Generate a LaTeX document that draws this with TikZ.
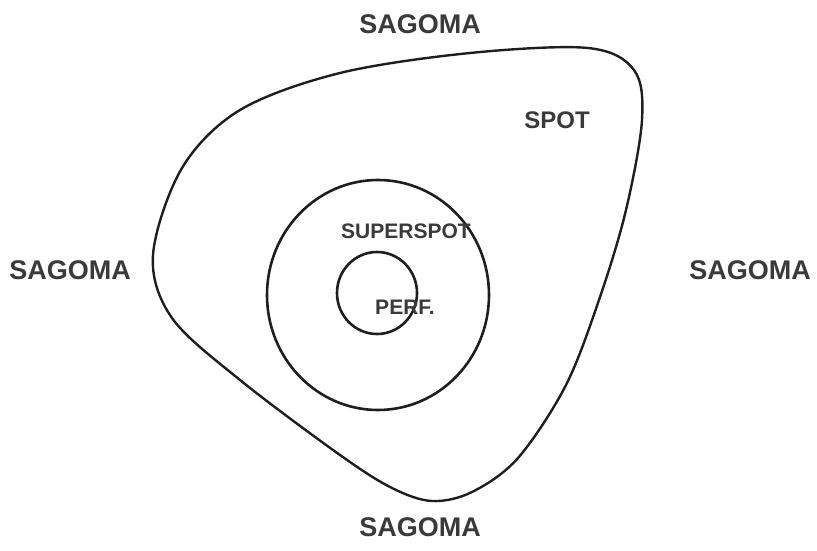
\documentclass[tikz,border=0pt]{standalone}
\usepackage{fontspec}
\setmainfont{Liberation Sans}
\usetikzlibrary{positioning}
\definecolor{cink}{HTML}{1E1E1E}
\definecolor{ctext}{HTML}{3A3A3A}
\tikzset{
  every picture/.style={line width=2.6pt},
  zone/.style={draw=cink, line width=#1},
  zone/.default=2.6pt,
  tag/.style={font=\fontsize{#1}{#1}\selectfont\bfseries, text=ctext, inner sep=0pt},
  tag/.default=21,
}

\begin{document}
\begin{tikzpicture}[x=1pt, y=-1pt]
  \useasboundingbox (0,0) rectangle (817,551);
  % lens outline
  \draw[zone=2.4pt] plot[smooth cycle, tension=0.55] coordinates {
    (153,255) (182,168) (240,110) (340,73) (470,53) (588,48) (634,70)
    (642,120) (626,210) (600,297) (566,385) (518,458) (472,492) (432,501)
    (392,488) (340,455) (240,380) (172,318)};
  \draw[zone] (378,295) ellipse[x radius=111, y radius=115];
  \draw[zone] (377,293) ellipse[x radius=40, y radius=41];

  \node[tag=24] (spot) at (557,120) {SPOT};
  \node[tag] (super) at (406,231) {SUPERSPOT};
  \node[tag] (perf) at (405,307) {PERF.};
  \foreach \n/\p in {top/{(420,24)}, left/{(70,270)}, right/{(750,270)}, bottom/{(420,527)}}
    \node[tag=27] (sag\n) at \p {SAGOMA};
\end{tikzpicture}
\end{document}
